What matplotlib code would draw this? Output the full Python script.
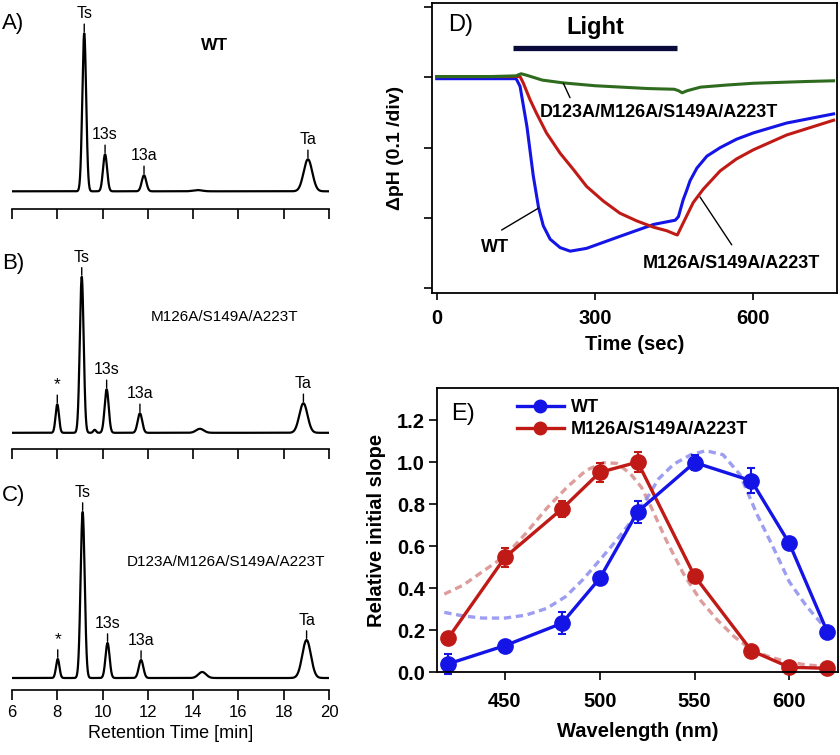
import numpy as np
import matplotlib
matplotlib.use('Agg')
import matplotlib.pyplot as plt
from matplotlib.lines import Line2D

plt.rcParams['font.family'] = ['Liberation Sans', 'DejaVu Sans']

# ---------------- Data ----------------
# HPLC chromatograms: peak tables (retention time [min], height [a.u.], width sigma [min], label)
rt_ticks = [6, 8, 10, 12, 14, 16, 18, 20]

A_pos = [9.19, 10.11, 11.83, 14.2, 19.07]
A_height = [158, 37, 16, 1.2, 32]
A_sigma = [0.085, 0.09, 0.1, 0.2, 0.19]
A_label = ['Ts', '13s', '13a', '', 'Ta']

B_pos = [8.0, 9.08, 9.65, 10.18, 11.65, 14.3, 18.87]
B_height = [28.5, 156, 3, 43.5, 19.5, 4, 29.5]
B_sigma = [0.075, 0.085, 0.06, 0.09, 0.1, 0.17, 0.18]
B_label = ['*', 'Ts', '', '13s', '13a', '', 'Ta']

C_pos = [8.02, 9.12, 10.22, 11.70, 14.4, 19.01]
C_height = [19, 166, 35, 18, 6, 38]
C_sigma = [0.075, 0.09, 0.09, 0.1, 0.17, 0.19]
C_label = ['*', 'Ts', '13s', '13a', '', 'Ta']

chrom_titles = ['WT', 'M126A/S149A/A223T', 'D123A/M126A/S149A/A223T']

# Light-induced pH change (time [s], delta pH)
light_on, light_off = 145, 456
wt_t = [0, 100, 150, 152, 158, 171, 183, 193, 202, 215, 234, 253, 284, 347, 411, 452, 458,
        467, 474, 480, 493, 512, 537, 568, 600, 663, 752]
wt_v = [-0.002, -0.002, -0.002, -0.004, -0.013, -0.07, -0.14, -0.185, -0.211, -0.23, -0.242,
        -0.247, -0.243, -0.226, -0.209, -0.203, -0.198, -0.174, -0.16, -0.147, -0.129, -0.112,
        -0.1, -0.088, -0.079, -0.065, -0.052]
mut_t = [0, 100, 158, 164, 177, 189, 208, 234, 259, 284, 316, 347, 379, 411, 436, 452, 456,
         467, 486, 505, 537, 568, 600, 663, 752]
mut_v = [0.001, 0.001, 0.001, -0.008, -0.032, -0.051, -0.079, -0.108, -0.131, -0.155, -0.176,
         -0.193, -0.204, -0.213, -0.218, -0.223, -0.224, -0.207, -0.178, -0.159, -0.133, -0.116,
         -0.103, -0.082, -0.061]
dmut_t = [0, 100, 150, 160, 170, 200, 240, 300, 350, 400, 450, 458, 465, 475, 500, 550, 600, 700, 752]
dmut_v = [0.001, 0.001, 0.002, 0.005, 0.003, -0.004, -0.008, -0.012, -0.014, -0.016, -0.017,
          -0.019, -0.022, -0.019, -0.014, -0.011, -0.0085, -0.006, -0.005]
time_ticks = [0, 300, 600]
dph_ticks = [0.1, 0.0, -0.1, -0.2, -0.3]

# Action spectra
wl = [420, 450, 480, 500, 520, 550, 580, 600, 620]
wt_slope = [0.04, 0.127, 0.233, 0.447, 0.764, 0.998, 0.911, 0.613, 0.193]
wt_err = [0.047, 0.02, 0.053, 0.02, 0.052, 0.035, 0.06, 0.02, 0.02]
mut_slope = [0.162, 0.547, 0.777, 0.951, 1.0, 0.458, 0.103, 0.024, 0.019]
mut_err = [0.02, 0.045, 0.04, 0.045, 0.048, 0.02, 0.02, 0.02, 0.02]
wt_fit_wl = [418, 428, 438, 450, 461, 472, 482, 491, 500, 509, 518, 525, 531, 539, 548, 556,
             565, 574, 583, 592, 600, 609, 620]
wt_fit = [0.285, 0.268, 0.258, 0.258, 0.272, 0.304, 0.36, 0.44, 0.534, 0.63, 0.735, 0.83, 0.92,
          0.99, 1.035, 1.054, 1.035, 0.94, 0.75, 0.585, 0.43, 0.315, 0.2]
mut_fit_wl = [418, 428, 438, 450, 461, 472, 483, 493, 502, 509, 516, 522, 527, 535, 544, 553,
              562, 571, 579, 588, 597, 609, 621]
mut_fit = [0.372, 0.415, 0.478, 0.553, 0.661, 0.78, 0.883, 0.962, 0.997, 0.994, 0.946, 0.88,
           0.788, 0.629, 0.471, 0.344, 0.249, 0.169, 0.114, 0.078, 0.054, 0.035, 0.027]
wl_ticks = [450, 500, 550, 600]
slope_ticks = [0.0, 0.2, 0.4, 0.6, 0.8, 1.0, 1.2]

# ---------------- Figure ----------------
W, H = 840, 755
fig = plt.figure(figsize=(W / 100, H / 100), dpi=100)


def px_axes(l, t, r, b):
    return fig.add_axes([l / W, 1 - b / H, (r - l) / W, (b - t) / H])


def fpos(x, y):
    return x / W, 1 - y / H


# ---- chromatograms ----
chrom_specs = [
    (A_pos, A_height, A_sigma, A_label, 209.3, 18.0, 'A)', 24, (215, 45), 'bold', 12.5),
    (B_pos, B_height, B_sigma, B_label, 449.3, 16.5, 'B)', 263, (225, 317), 'normal', 11),
    (C_pos, C_height, C_sigma, C_label, 689.5, 11.5, 'C)', 496, (226, 562), 'normal', 11),
]
rt = np.linspace(6, 20, 3000)
for i, (pos, hts, sig, labs, spine_y, base_off, letter, ly, tpos, tw, tfs) in enumerate(chrom_specs):
    ax = px_axes(12, spine_y - 205, 329, spine_y)
    sig_tr = np.zeros_like(rt)
    for p, h, s in zip(pos, hts, sig):
        sig_tr += h * np.exp(-0.5 * ((rt - p) / s) ** 2)
    ax.plot(rt, sig_tr, color='black', lw=1.6)
    ax.set_xlim(6, 20)
    ax.set_ylim(-base_off, 205 - base_off)
    for sp in ['top', 'right', 'left']:
        ax.spines[sp].set_visible(False)
    ax.spines['bottom'].set_linewidth(1.2)
    ax.set_yticks([])
    ax.set_xticks(rt_ticks)
    ax.tick_params(axis='x', direction='out', length=7.5, width=1.2, labelsize=12, pad=4)
    if i < 2:
        ax.set_xticklabels([])
    else:
        ax.set_xlabel('Retention Time [min]', fontsize=13, labelpad=3)
    for p, h, lab in zip(pos, hts, labs):
        if lab:
            ax.annotate(lab, xy=(p, h), xytext=(0, 8.6), textcoords='offset points',
                        ha='center', va='bottom', fontsize=12.5 if lab == '*' else 11.5,
                        arrowprops=dict(arrowstyle='-', lw=1.0, color='black',
                                        shrinkA=0, shrinkB=1.2))
    fig.text(*fpos(2, ly), letter, fontsize=16, ha='left', va='center')
    fig.text(*fpos(*tpos), chrom_titles[i], fontsize=tfs,
             ha='center', va='center', fontweight=tw)

# ---- D: pH change ----
axD = px_axes(432.3, 3, 836.5, 292.5)
axD.plot(wt_t, wt_v, color='#1414e6', lw=2.2)
axD.plot(mut_t, mut_v, color='#c01a16', lw=2.2)
axD.plot(dmut_t, dmut_v, color='#2f6b1f', lw=2.2)
axD.set_xlim(-8.3, 757.5)
axD.set_ylim(-0.3057, 0.1055)
axD.set_xticks(time_ticks)
axD.set_yticks(dph_ticks)
axD.set_yticklabels([])
axD.tick_params(axis='both', direction='out', width=1.2, labelsize=14.5)
axD.tick_params(axis='x', length=5, pad=7)
axD.tick_params(axis='y', length=6)
for lab in axD.get_xticklabels():
    lab.set_fontweight('bold')
for sp in axD.spines.values():
    sp.set_linewidth(1.3)
axD.set_xlabel('Time (sec)', fontsize=14.5, fontweight='bold', labelpad=5)
axD.set_ylabel('ΔpH (0.1 /div)', fontsize=14, fontweight='bold', labelpad=11)
axD.plot([light_on, light_off], [0.041, 0.041], color='#0b0b3b', lw=3.8, solid_capstyle='butt')
axD.text((light_on + light_off) / 2, 0.07, 'Light', fontsize=17, fontweight='bold',
         ha='center', va='center')
axD.text(0.07, 0.925, 'D)', transform=axD.transAxes, fontsize=17, ha='center', va='center')
# annotations
axD.annotate('', xy=(192.5, -0.186), xytext=(123, -0.217),
             arrowprops=dict(arrowstyle='-', lw=1, color='black', shrinkA=0, shrinkB=0))
axD.text(110, -0.242, 'WT', fontsize=13, fontweight='bold', ha='center', va='center')
axD.annotate('', xy=(240, -0.0085), xytext=(252.6, -0.029),
             arrowprops=dict(arrowstyle='-', lw=1, color='black', shrinkA=0, shrinkB=0))
axD.text(421, -0.0507, 'D123A/M126A/S149A/A223T', fontsize=13, fontweight='bold',
         ha='center', va='center')
axD.annotate('', xy=(498.9, -0.17), xytext=(559, -0.238),
             arrowprops=dict(arrowstyle='-', lw=1, color='black', shrinkA=0, shrinkB=0))
axD.text(559, -0.264, 'M126A/S149A/A223T', fontsize=13, fontweight='bold',
         ha='center', va='center')

# ---- E: action spectra ----
axE = px_axes(437.3, 388.3, 837.7, 672.3)
blue, red = '#1414e6', '#c01a16'
axE.plot(mut_fit_wl, mut_fit, color='#d98c8c', lw=2.4, ls=(0, (2.2, 1.4)), alpha=0.85)
axE.plot(wt_fit_wl, wt_fit, color='#8c8cf0', lw=2.4, ls=(0, (2.2, 1.4)), alpha=0.85)
axE.errorbar(wl, mut_slope, yerr=mut_err, color=red, lw=2.4, marker='o', ms=11,
             capsize=3, elinewidth=1.5, capthick=1.5, clip_on=False)
axE.errorbar(wl, wt_slope, yerr=wt_err, color=blue, lw=2.4, marker='o', ms=11,
             capsize=3, elinewidth=1.5, capthick=1.5, clip_on=False)
axE.set_xlim(414.3, 625.5)
axE.set_ylim(0, 1.351)
axE.set_xticks(wl_ticks)
axE.set_yticks(slope_ticks)
axE.set_yticklabels([f'{v:.1f}' for v in slope_ticks])
axE.tick_params(axis='both', direction='out', length=6, width=1.2, labelsize=14.5, pad=3)
axE.tick_params(axis='x', pad=8)
for lab in axE.get_xticklabels() + axE.get_yticklabels():
    lab.set_fontweight('bold')
for sp in axE.spines.values():
    sp.set_linewidth(1.3)
axE.set_xlabel('Wavelength (nm)', fontsize=14.5, fontweight='bold', labelpad=8)
axE.set_ylabel('Relative initial slope', fontsize=14.5, fontweight='bold', labelpad=8)
axE.text(0.063, 0.91, 'E)', transform=axE.transAxes, fontsize=17, ha='center', va='center')
handles = [Line2D([], [], color=blue, lw=2.4, marker='o', ms=9),
           Line2D([], [], color=red, lw=2.4, marker='o', ms=9)]
axE.legend(handles, ['WT', 'M126A/S149A/A223T'], loc='upper left',
           bbox_to_anchor=(0.19, 0.975), frameon=False,
           prop={'weight': 'bold', 'size': 13}, handlelength=2.6,
           handletextpad=0.4, labelspacing=0.3, borderaxespad=0, borderpad=0.2)

fig.savefig('out.png', dpi=100)
